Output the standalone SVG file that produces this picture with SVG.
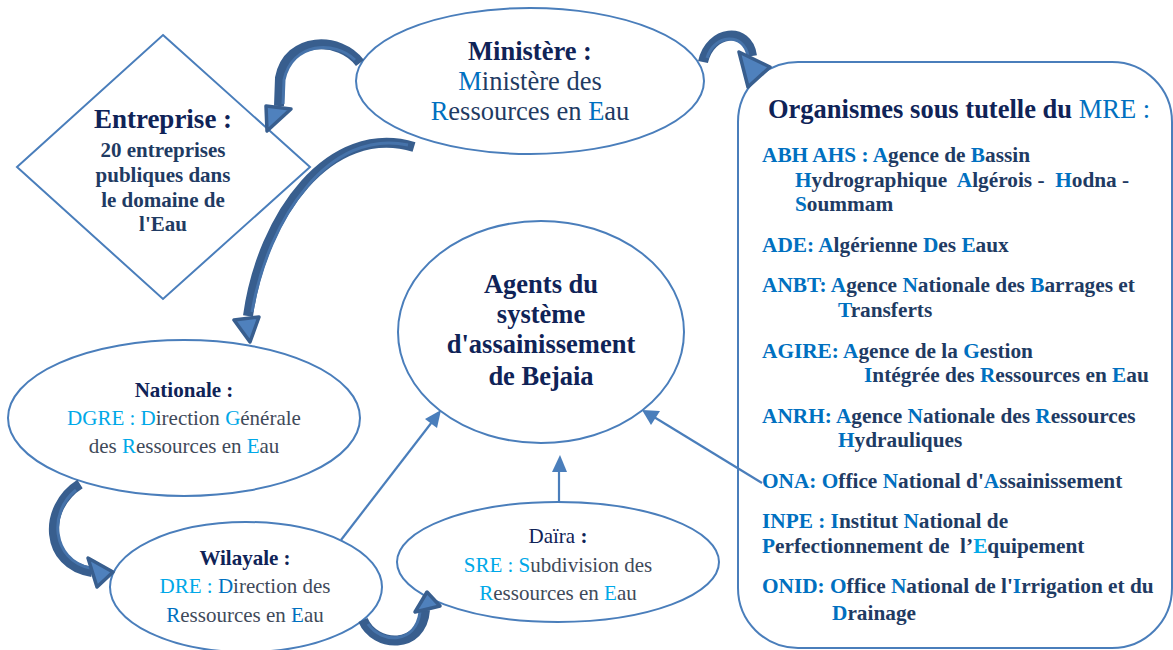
<svg xmlns="http://www.w3.org/2000/svg" width="1173" height="650" viewBox="0 0 1173 650">
<style>
.shape{fill:#fff;stroke:#4a7ebb;stroke-width:2}
.t{font-family:"Liberation Serif","Times New Roman",serif;text-anchor:middle}
.l{font-family:"Liberation Serif","Times New Roman",serif}
.b{font-weight:bold}
.navy{fill:#0f2357}
.dk{fill:#1f3b63}
.gr{fill:#3f4a5a}
.bl{fill:#0070c0}
.lb{fill:#00a8e8}
.thin{fill:none;stroke:#4a7ebb;stroke-width:2.2}
.ah{fill:#4a7ebb}
.shaft{fill:none;stroke:#385e8e;stroke-width:10;stroke-linecap:butt}
.inner{fill:none;stroke:#4673aa;stroke-width:3}
.head{fill:#4f81bd;stroke:#385e8e;stroke-width:3.5;stroke-linejoin:round}
</style>

<g id="box-organismes">
<rect class="shape" x="738" y="62" width="434" height="586" rx="60" ry="60"/>
<text class="l" x="768" y="118" font-size="26.5"><tspan class="b navy">Organismes sous tutelle du </tspan><tspan class="bl">MRE :</tspan></text>
<g class="l b" font-size="21.3">
<text x="762" y="162"><tspan class="bl">ABH AHS : A</tspan><tspan class="dk">gence de </tspan><tspan class="bl">B</tspan><tspan class="dk">assin</tspan></text>
<text x="795" y="187" xml:space="preserve"><tspan class="bl">H</tspan><tspan class="dk">ydrographique  </tspan><tspan class="bl">A</tspan><tspan class="dk">lgérois -  </tspan><tspan class="bl">H</tspan><tspan class="dk">odna -</tspan></text>
<text x="795" y="211"><tspan class="bl">S</tspan><tspan class="dk">oummam</tspan></text>
<text x="762" y="252"><tspan class="bl">ADE: A</tspan><tspan class="dk">lgérienne </tspan><tspan class="bl">D</tspan><tspan class="dk">es </tspan><tspan class="bl">E</tspan><tspan class="dk">aux</tspan></text>
<text x="762" y="292"><tspan class="bl">ANBT: A</tspan><tspan class="dk">gence </tspan><tspan class="bl">N</tspan><tspan class="dk">ationale des </tspan><tspan class="bl">B</tspan><tspan class="dk">arrages et</tspan></text>
<text x="838" y="317"><tspan class="bl">T</tspan><tspan class="dk">ransferts</tspan></text>
<text x="762" y="358"><tspan class="bl">AGIRE: A</tspan><tspan class="dk">gence de la </tspan><tspan class="bl">G</tspan><tspan class="dk">estion</tspan></text>
<text x="864" y="382"><tspan class="bl">I</tspan><tspan class="dk">ntégrée des </tspan><tspan class="bl">R</tspan><tspan class="dk">essources en </tspan><tspan class="bl">E</tspan><tspan class="dk">au</tspan></text>
<text x="762" y="423"><tspan class="bl">ANRH: A</tspan><tspan class="dk">gence </tspan><tspan class="bl">N</tspan><tspan class="dk">ationale des </tspan><tspan class="bl">R</tspan><tspan class="dk">essources</tspan></text>
<text x="838" y="447"><tspan class="bl">H</tspan><tspan class="dk">ydrauliques</tspan></text>
<text x="762" y="488"><tspan class="bl">ONA: O</tspan><tspan class="dk">ffice </tspan><tspan class="bl">N</tspan><tspan class="dk">ational d'</tspan><tspan class="bl">A</tspan><tspan class="dk">ssainissement</tspan></text>
<text x="762" y="528"><tspan class="bl">INPE : I</tspan><tspan class="dk">nstitut </tspan><tspan class="bl">N</tspan><tspan class="dk">ational de</tspan></text>
<text x="762" y="553" xml:space="preserve"><tspan class="bl">P</tspan><tspan class="dk">erfectionnement de  l’</tspan><tspan class="lb">E</tspan><tspan class="dk">quipement</tspan></text>
<text x="762" y="593"><tspan class="bl">ONID: O</tspan><tspan class="dk">ffice </tspan><tspan class="bl">N</tspan><tspan class="dk">ational de l'</tspan><tspan class="bl">I</tspan><tspan class="dk">rrigation et du</tspan></text>
<text x="832" y="620"><tspan class="bl">D</tspan><tspan class="dk">rainage</tspan></text>
</g>
</g>

<g id="node-entreprise">
<polygon class="shape" points="163,35 310,167 163,299 17,167"/>
<text class="t b navy" x="163" y="128" font-size="27">Entreprise :</text>
<g class="t b dk" font-size="21">
<text x="163" y="157">20 entreprises</text>
<text x="163" y="182">publiques dans</text>
<text x="163" y="207">le domaine de</text>
<text x="163" y="231">l'Eau</text>
</g>
</g>

<g id="node-ministere">
<ellipse class="shape" cx="530" cy="81" rx="174" ry="73"/>
<text class="t b navy" x="530" y="60" font-size="26.5">Ministère :</text>
<text class="t" x="530" y="90" font-size="26.5"><tspan class="bl">M</tspan><tspan class="dk">inistère des</tspan></text>
<text class="t" x="530" y="120" font-size="26.5"><tspan class="bl">R</tspan><tspan class="dk">essources en </tspan><tspan class="bl">E</tspan><tspan class="dk">au</tspan></text>
</g>

<g id="node-agents">
<ellipse class="shape" cx="541" cy="332" rx="143" ry="111"/>
<g class="t b navy" font-size="26.5">
<text x="541" y="293">Agents du</text>
<text x="541" y="323">système</text>
<text x="541" y="353">d'assainissement</text>
<text x="541" y="385">de Bejaia</text>
</g>
</g>

<g id="node-nationale">
<ellipse class="shape" cx="184" cy="418" rx="176" ry="78"/>
<text class="t b navy" x="184" y="397" font-size="21">Nationale :</text>
<text class="t" x="184" y="425" font-size="21"><tspan class="lb">DGRE : D</tspan><tspan class="gr">irection </tspan><tspan class="lb">G</tspan><tspan class="gr">énérale</tspan></text>
<text class="t" x="184" y="453" font-size="21"><tspan class="gr">des </tspan><tspan class="lb">R</tspan><tspan class="gr">essources en </tspan><tspan class="lb">E</tspan><tspan class="gr">au</tspan></text>
</g>

<g id="node-wilayale">
<ellipse class="shape" cx="246" cy="587" rx="136" ry="65"/>
<text class="t b navy" x="245" y="565" font-size="21">Wilayale :</text>
<text class="t" x="245" y="593" font-size="21"><tspan class="lb">DRE : </tspan><tspan class="bl">D</tspan><tspan class="gr">irection des</tspan></text>
<text class="t" x="245" y="622" font-size="21"><tspan class="bl">R</tspan><tspan class="gr">essources en </tspan><tspan class="bl">E</tspan><tspan class="gr">au</tspan></text>
</g>

<g id="node-daira">
<ellipse class="shape" cx="558" cy="562" rx="161" ry="60"/>
<text class="t navy" x="558" y="543" font-size="21">Daïra <tspan class="b">:</tspan></text>
<text class="t" x="558" y="572" font-size="21"><tspan class="lb">SRE : S</tspan><tspan class="gr">ubdivision des</tspan></text>
<text class="t" x="558" y="600" font-size="21"><tspan class="lb">R</tspan><tspan class="gr">essources en </tspan><tspan class="lb">E</tspan><tspan class="gr">au</tspan></text>
</g>

<g id="connectors">
<line class="thin" x1="341" y1="540" x2="432" y2="422"/>
<polygon class="ah" points="441,410 437,428 425,419"/>
<line class="thin" x1="559" y1="501" x2="559" y2="470"/>
<polygon class="ah" points="560,455 567,472 552,472"/>
<line class="thin" x1="762" y1="483" x2="654" y2="417"/>
<polygon class="ah" points="642,410 660,411 651,425"/>

<path class="shaft" d="M360,63 C340,36 288,36 280,78 L279,106"/>
<path class="inner" d="M355,60 C335,40 292,42 284,80 L283,104"/>
<polygon class="head" points="266,106 291,109 267,131"/>

<path class="shaft" d="M703,62 C710,30 748,26 752,56"/>
<path class="inner" d="M707,58 C714,34 744,32 748,56"/>
<polygon class="head" points="739,52 770,67 748,87"/>

<path class="shaft" d="M414,147 C330,122 262,215 248,316"/>
<path class="inner" d="M408,145 C330,128 268,218 252,312"/>
<polygon class="head" points="234,320 259,317 250,342"/>

<path class="shaft" d="M80,484 C42,508 45,565 92,572"/>
<path class="inner" d="M76,490 C48,512 52,560 90,568"/>
<polygon class="head" points="88,558 97,587 113,572"/>

<path class="shaft" d="M363,620 C375,648 422,650 425,610"/>
<path class="inner" d="M368,624 C382,644 416,644 420,612"/>
<polygon class="head" points="415,612 440,606 427,592"/>
</g>
</svg>
